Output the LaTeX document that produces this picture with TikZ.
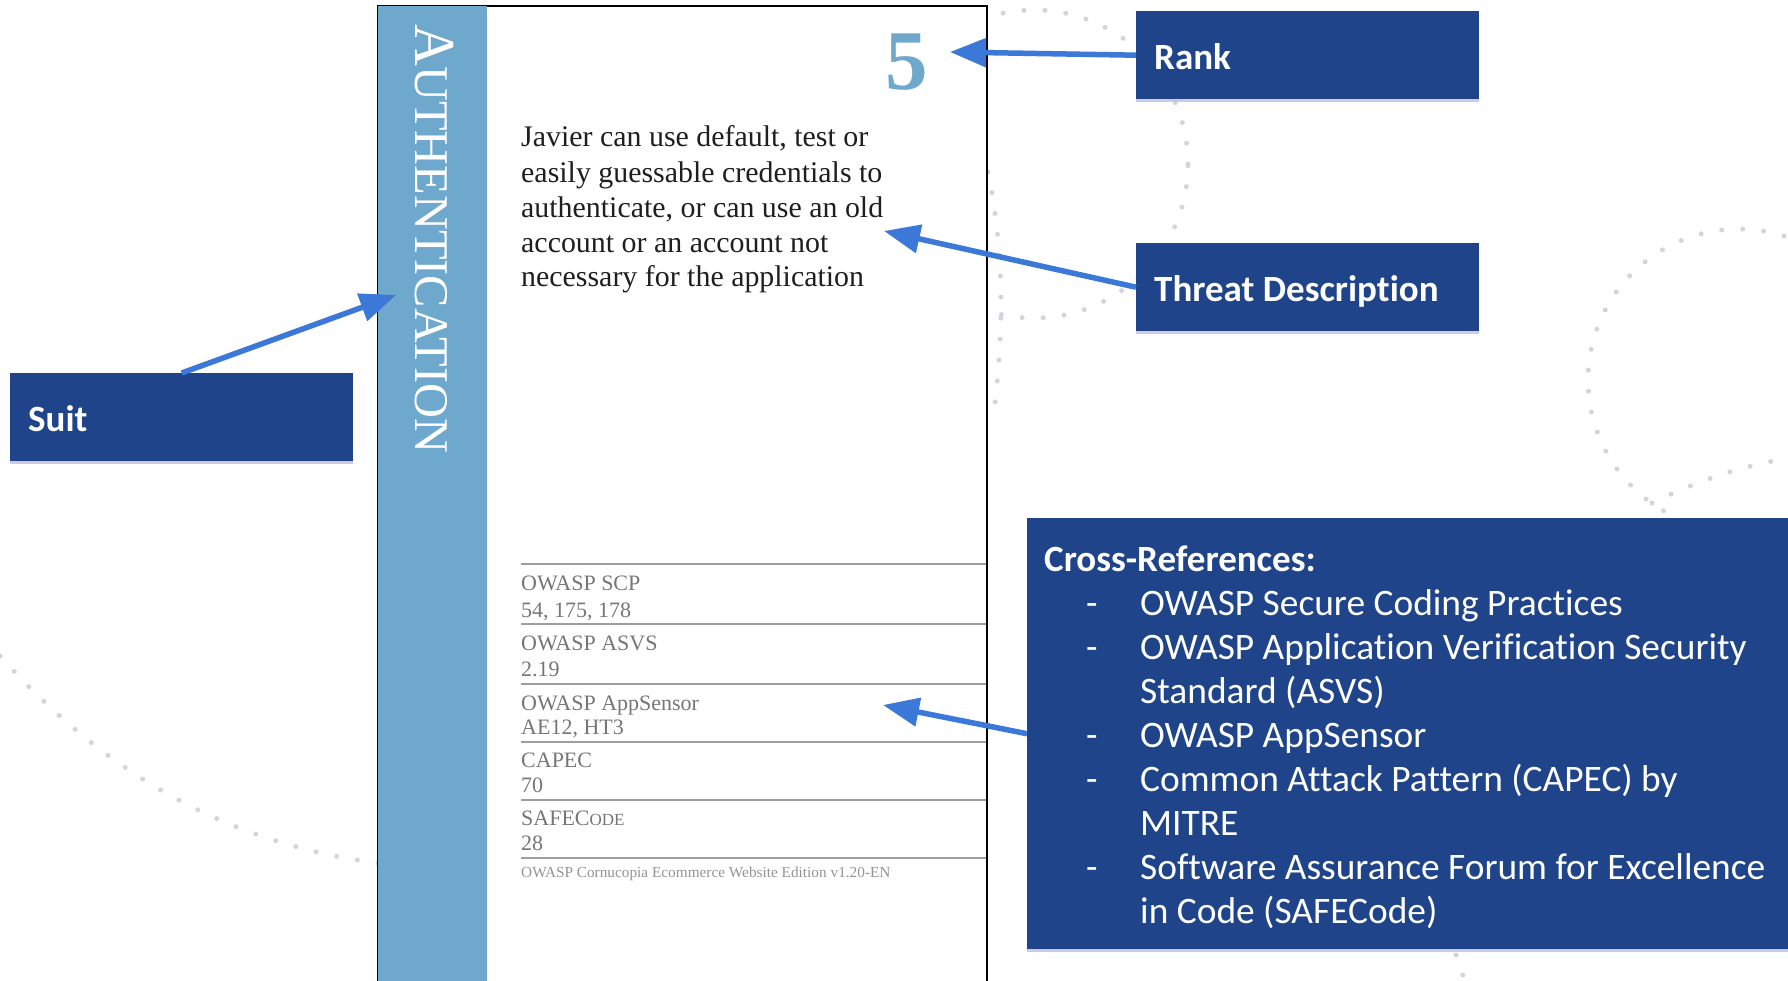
\documentclass[tikz,border=0pt]{standalone}
\usepackage{fontspec}
\setmainfont{Liberation Serif}
\newfontfamily\calib[Ligatures=NoCommon]{Carlito}
\usetikzlibrary{arrows.meta,shadows}
\definecolor{boxblue}{RGB}{31,68,137}
\definecolor{arrblue}{RGB}{60,120,216}
\definecolor{stripeblue}{RGB}{111,168,205}
\definecolor{dotgrey}{RGB}{210,213,221}
\definecolor{refgrey}{RGB}{118,118,118}
\definecolor{linegrey}{RGB}{158,158,158}
\definecolor{shadowlav}{RGB}{196,188,222}
\tikzset{
  bluebox/.style={fill=boxblue, draw=none, inner sep=0pt, anchor=north west,
     drop shadow={shadow xshift=0pt, shadow yshift=-3pt, fill=shadowlav, opacity=0.8}},
  boxlabel/.style={text=white, font=\calib\bfseries\fontsize{37}{44}\selectfont, inner sep=0pt, anchor=base west},
  itemtext/.style={text=white, font=\calib\fontsize{37.4}{44}\selectfont, inner sep=0pt, anchor=base west},
  arr/.style={draw=arrblue, line width=5.5pt, -{Triangle[length=36pt,width=28pt]}},
  bgdots/.style={draw=dotgrey, line width=5pt, line cap=round, dash pattern=on 0pt off 21pt},
  desc/.style={text=black!88, font=\fontsize{29.9}{35}\selectfont, inner sep=0pt, anchor=base west},
  reftext/.style={text=refgrey, font=\fontsize{22}{26}\selectfont, inner sep=0pt, anchor=base west},
  refline/.style={draw=linegrey, line width=2.2pt}
}
\begin{document}
\begin{tikzpicture}[x=1pt,y=-1pt]
\useasboundingbox (0,0) rectangle (1788,980);
\clip (0,0) rectangle (1788,980);
\fill[white] (0,0) rectangle (1788,980);

% faint dotted background curves
\draw[bgdots] (1034,164) circle[radius=154pt];
\draw[bgdots] (988,172) .. controls (1004,250) and (1004,330) .. (994,412);
\draw[bgdots] plot[domain=-240:-40, samples=90, smooth] ({1739+151*cos(\x)}, {380+151*sin(\x)});
\draw[bgdots] (1652,503) .. controls (1700,480) and (1740,466) .. (1795,457);
\draw[bgdots] (0,656) .. controls (120,790) and (250,850) .. (400,866);
\draw[bgdots] (1456,955) -- (1468,990);

% the card
\node[draw=black, line width=2pt, fill=white, anchor=north west, inner sep=0pt,
      minimum width=609pt, minimum height=1000pt] (card) at (377,5) {};
\fill[stripeblue] (378,6) rectangle (487,1010);
\node[rotate=-90, anchor=base west, inner sep=0pt, text=white,
      font=\fontsize{58}{58}\selectfont] (suitname) at (415,24)
      {A{\fontsize{48.4}{48}\selectfont UTHENTICATION}};
\node[anchor=base west, inner sep=0pt, text=stripeblue,
      font=\bfseries\fontsize{85}{85}\selectfont] (rankno) at (885,89) {5};

\node[desc] (d1) at (521,146) {Javier can use default, test or};
\node[desc] (d2) at (521,182) {easily guessable credentials to};
\node[desc] (d3) at (521,217) {authenticate, or can use an old};
\node[desc] (d4) at (521,252) {account or an account not};
\node[desc] (d5) at (521,286) {necessary for the application};

\draw[refline] (521,564) -- (986,564);
\draw[refline] (521,624) -- (986,624);
\draw[refline] (521,684) -- (986,684);
\draw[refline] (521,742) -- (986,742);
\draw[refline] (521,800) -- (986,800);
\draw[refline] (521,858) -- (986,858);

\node[reftext] (r1a) at (521,590) {OWASP SCP};
\node[reftext] (r1b) at (521,617) {54, 175, 178};
\node[reftext] (r2a) at (521,650) {OWASP ASVS};
\node[reftext] (r2b) at (521,676) {2.19};
\node[reftext] (r3a) at (521,710) {OWASP AppSensor};
\node[reftext] (r3b) at (521,734) {AE12, HT3};
\node[reftext] (r4a) at (521,767) {CAPEC};
\node[reftext] (r4b) at (521,792) {70};
\node[reftext] (r5a) at (521,825) {SAFEC{\fontsize{17}{20}\selectfont ODE}};
\node[reftext] (r5b) at (521,850) {28};
\node[text=black!42, font=\fontsize{15.3}{18}\selectfont, inner sep=0pt, anchor=base west]
      (footer) at (521,877) {OWASP Cornucopia Ecommerce Website Edition v1.20-EN};

% arrow tips
\coordinate (ranktip) at (950,52);
\coordinate (threattip) at (884,231);
\coordinate (suittip) at (396,295);
\coordinate (crosstip) at (883,705);

% label boxes
\node[bluebox, minimum width=343pt, minimum height=88pt] (rank) at (1136,11) {};
\node[bluebox, minimum width=343pt, minimum height=88pt] (threat) at (1136,243) {};
\node[bluebox, minimum width=343pt, minimum height=88pt] (suit) at (10,373) {};
\node[bluebox, minimum width=790pt, minimum height=431pt] (cross) at (1027,518) {};

\node[boxlabel] (rankl) at (1154,69) {Rank};
\node[boxlabel] (threatl) at (1154,301) {Threat Description};
\node[boxlabel] (suitl) at (28,431) {Suit};

\node[boxlabel] (crosst) at (1044,571) {Cross-References:};
\node[itemtext] (dash1) at (1086,615) {-};
\node[itemtext] (i1) at (1140,615) {OWASP Secure Coding Practices};
\node[itemtext] (dash2) at (1086,659) {-};
\node[itemtext] (i2) at (1140,659) {OWASP Application Verification Security};
\node[itemtext] (i2b) at (1140,703) {Standard (ASVS)};
\node[itemtext] (dash3) at (1086,747) {-};
\node[itemtext] (i3) at (1140,747) {OWASP AppSensor};
\node[itemtext] (dash4) at (1086,791) {-};
\node[itemtext] (i4) at (1140,791) {Common Attack Pattern (CAPEC) by};
\node[itemtext] (i4b) at (1140,835) {MITRE};
\node[itemtext] (dash5) at (1086,879) {-};
\node[itemtext] (i5) at (1140,879) {Software Assurance Forum for Excellence};
\node[itemtext] (i5b) at (1140,923) {in Code (SAFECode)};

% connectors
\draw[arr] (rank.west) -- (ranktip);
\draw[arr] (threat.west) -- (threattip);
\draw[arr] (suit.north) -- (suittip);
\draw[arr] (cross.west) -- (crosstip);
\end{tikzpicture}
\end{document}
